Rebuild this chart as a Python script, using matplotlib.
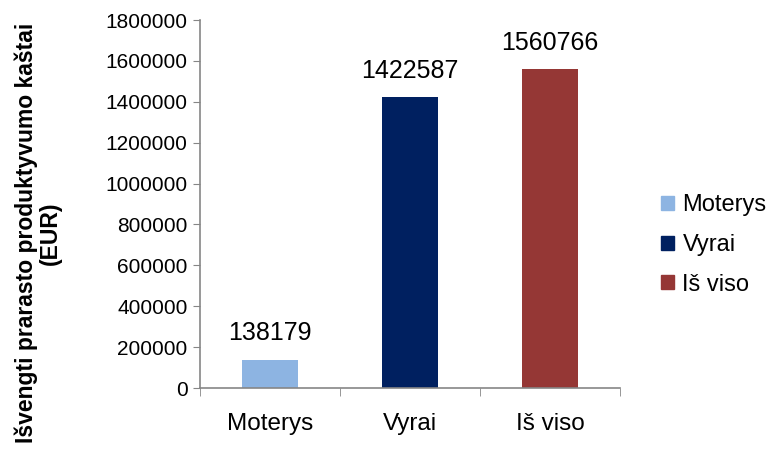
import matplotlib.pyplot as plt
from matplotlib.patches import Patch

plt.rcParams['font.family'] = ['Liberation Sans', 'DejaVu Sans']

categories = ['Moterys', 'Vyrai', 'Iš viso']
values = [138179, 1422587, 1560766]
colors = ['#8DB4E2', '#002060', '#953735']
yticks = [0, 200000, 400000, 600000, 800000, 1000000, 1200000, 1400000, 1600000, 1800000]

fig = plt.figure(figsize=(7.73, 4.54), dpi=100)
ax = fig.add_axes([200 / 773, 1 - 388 / 454, 420 / 773, 368 / 454])

x = range(len(categories))
bars = ax.bar(x, values, width=0.4, color=colors)
for xi, v in zip(x, values):
    ax.text(xi, v + 70000, str(v), ha='center', va='bottom', fontsize=18)

ax.set_xlim(-0.5, 2.5)
ax.set_ylim(0, 1800000)
ax.set_yticks(yticks)
ax.set_yticklabels([str(t) for t in yticks], fontsize=15)
ax.set_xticks(list(x))
ax.set_xticklabels(categories, fontsize=17.5)
ax.tick_params(axis='x', length=0, pad=18)
ax.tick_params(axis='y', length=5, color='#868686', pad=4)
# category boundary ticks on x axis
ax.set_xticks([-0.5, 0.5, 1.5, 2.5], minor=True)
ax.tick_params(axis='x', which='minor', length=6, color='#868686')

for s in ['top', 'right']:
    ax.spines[s].set_visible(False)
for s in ['left', 'bottom']:
    ax.spines[s].set_color('#868686')
    ax.spines[s].set_linewidth(1.2)

fig.text(38 / 773, 1 - 233 / 454, 'Išvengti prarasto produktyvumo kaštai\n(EUR)',
         rotation=90, ha='center', va='center', fontsize=16.5, fontweight='bold',
         linespacing=1.05, multialignment='center')

handles = [Patch(color=c, label=l) for c, l in zip(colors, categories)]
fig.legend(handles=handles, loc='center left', bbox_to_anchor=(640 / 773, 1 - 245 / 454),
           frameon=False, fontsize=17, handlelength=0.55, handleheight=0.55,
           handletextpad=0.35, labelspacing=0.75)

fig.savefig('out.png', dpi=100)
